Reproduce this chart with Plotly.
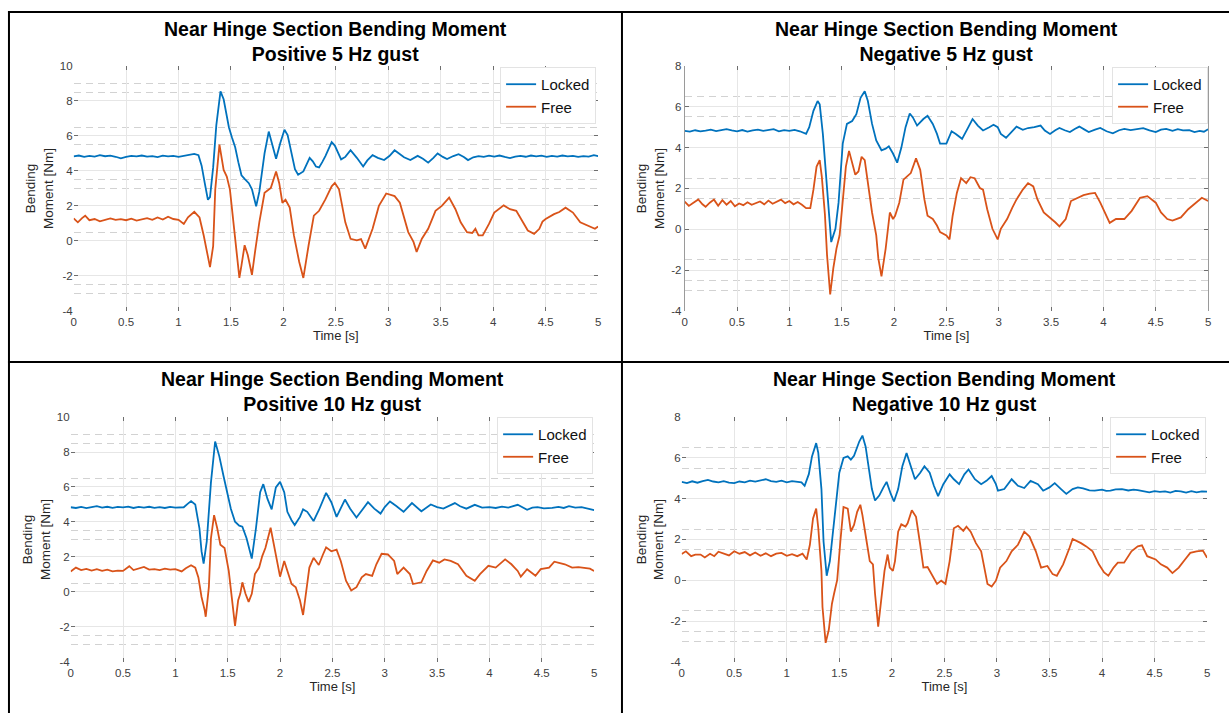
import plotly.graph_objects as go

W, H = 1232, 719

# ---------------- data: Positive 5 Hz gust ----------------
t_p5_locked = [0.00,0.05,0.10,0.15,0.20,0.25,0.30,0.35,0.40,0.45,0.50,0.55,0.60,0.65,0.70,0.75,0.80,0.85,0.90,0.95,
               1.00,1.05,1.10,1.15,1.19,1.22,1.25,1.28,1.30,1.33,1.36,1.40,1.43,1.46,1.48,1.51,1.54,1.57,1.60,1.63,
               1.67,1.70,1.74,1.77,1.80,1.82,1.86,1.89,1.93,1.97,2.01,2.04,2.08,2.11,2.14,2.19,2.25,2.28,2.31,2.34,
               2.37,2.40,2.46,2.49,2.55,2.59,2.64,2.70,2.76,2.80,2.85,2.90,2.96,3.01,3.06,3.10,3.15,3.21,3.28,3.33,
               3.38,3.43,3.47,3.52,3.56,3.62,3.67,3.72,3.76,3.81,3.86,3.91,3.96,4.01,4.06,4.11,4.16,4.21,4.26,4.31,
               4.36,4.41,4.46,4.51,4.56,4.61,4.66,4.71,4.76,4.81,4.86,4.91,4.96,5.00]
m_p5_locked = [4.83,4.88,4.80,4.86,4.82,4.90,4.84,4.87,4.81,4.72,4.80,4.86,4.83,4.88,4.82,4.85,4.79,4.87,4.83,4.86,
               4.80,4.85,4.90,4.97,4.90,4.30,3.30,2.35,2.50,4.20,6.60,8.55,8.10,7.00,6.50,5.90,5.35,4.50,3.75,3.55,
               3.30,2.95,1.98,2.80,4.30,5.00,6.25,5.60,4.70,5.60,6.35,6.05,4.90,4.10,3.78,3.97,4.75,4.55,4.25,4.20,
               4.50,4.85,5.65,5.45,4.66,4.80,5.18,4.75,4.25,4.60,4.90,4.75,4.62,4.85,5.18,5.00,4.78,4.62,4.86,4.70,
               4.47,4.75,5.00,4.80,4.68,4.85,4.96,4.80,4.62,4.78,4.85,4.80,4.87,4.82,4.88,4.80,4.73,4.82,4.86,4.81,
               4.88,4.83,4.87,4.80,4.86,4.82,4.88,4.83,4.86,4.80,4.85,4.82,4.90,4.85]
t_p5_free = [0.00,0.04,0.08,0.11,0.15,0.20,0.25,0.30,0.35,0.40,0.45,0.50,0.55,0.60,0.65,0.70,0.75,0.80,0.85,0.90,
             0.95,1.00,1.05,1.09,1.15,1.20,1.24,1.28,1.30,1.33,1.35,1.39,1.43,1.46,1.49,1.53,1.58,1.60,1.63,1.66,
             1.70,1.73,1.77,1.82,1.88,1.93,1.96,1.99,2.02,2.06,2.10,2.15,2.19,2.24,2.29,2.34,2.40,2.46,2.49,2.53,
             2.59,2.64,2.70,2.74,2.78,2.85,2.91,2.98,3.06,3.11,3.19,3.24,3.27,3.32,3.38,3.45,3.51,3.58,3.64,3.69,
             3.75,3.80,3.83,3.86,3.90,3.96,4.01,4.10,4.16,4.22,4.28,4.33,4.39,4.44,4.47,4.50,4.58,4.63,4.69,4.76,
             4.83,4.91,4.97,5.00]
m_p5_free = [1.29,1.06,1.30,1.44,1.18,1.25,1.12,1.22,1.28,1.20,1.24,1.18,1.27,1.16,1.24,1.30,1.20,1.34,1.22,1.38,
             1.25,1.20,0.97,1.35,1.66,1.34,0.31,-0.81,-1.50,-0.30,2.93,5.50,4.06,3.68,2.93,0.69,-2.12,-1.40,-0.25,-0.81,
             -1.94,-0.60,1.06,2.75,3.03,3.97,3.30,2.18,2.35,1.90,0.31,-1.19,-2.12,-0.25,1.44,1.72,2.37,3.12,3.31,2.95,
             1.06,0.12,0.03,0.10,-0.44,0.69,2.00,2.71,2.56,2.18,0.50,-0.06,-0.63,0.12,0.69,1.72,2.00,2.47,1.81,1.06,
             0.50,0.45,0.69,0.31,0.31,0.97,1.62,2.03,1.81,1.72,1.06,0.59,0.40,0.69,1.10,1.25,1.53,1.65,1.90,1.62,
             1.06,0.87,0.69,0.82]

# ---------------- data: Negative 5 Hz gust ----------------
t_n5_locked = [0.00,0.05,0.10,0.15,0.20,0.25,0.30,0.35,0.40,0.45,0.50,0.55,0.60,0.65,0.70,0.75,0.80,0.85,0.90,0.95,
               1.00,1.05,1.10,1.16,1.19,1.23,1.27,1.29,1.32,1.36,1.40,1.44,1.47,1.51,1.55,1.60,1.64,1.68,1.72,1.75,
               1.79,1.83,1.88,1.92,1.95,1.99,2.03,2.07,2.11,2.15,2.18,2.22,2.28,2.32,2.37,2.41,2.44,2.50,2.55,2.59,
               2.65,2.71,2.75,2.80,2.85,2.91,2.95,2.99,3.02,3.07,3.12,3.17,3.23,3.28,3.34,3.40,3.44,3.49,3.54,3.58,
               3.63,3.68,3.73,3.77,3.82,3.86,3.92,3.97,4.03,4.09,4.15,4.20,4.26,4.32,4.38,4.44,4.50,4.55,4.60,4.66,
               4.71,4.76,4.82,4.87,4.92,4.96,5.00]
m_n5_locked = [4.82,4.78,4.85,4.80,4.83,4.88,4.81,4.86,4.90,4.84,4.80,4.86,4.78,4.84,4.88,4.82,4.85,4.90,4.80,4.86,
               4.82,4.87,4.80,4.67,5.00,5.80,6.28,6.12,4.67,1.78,-0.63,0.02,1.30,4.20,5.16,5.30,5.64,6.44,6.76,6.28,
               5.16,4.35,3.87,3.95,4.06,3.71,3.26,4.00,5.00,5.67,5.48,5.08,5.40,5.56,5.16,4.67,4.19,4.19,4.80,4.67,
               4.43,5.00,5.40,5.08,4.84,5.00,5.12,5.00,4.67,4.48,4.75,5.03,4.87,4.96,5.00,5.08,4.84,4.67,4.85,4.96,
               4.85,4.76,4.92,5.03,4.88,4.76,4.88,4.96,4.80,4.70,4.85,4.92,4.86,4.90,4.95,4.84,4.76,4.88,4.92,4.82,
               4.90,4.84,4.86,4.76,4.82,4.78,4.90]
t_n5_free = [0.00,0.04,0.08,0.13,0.17,0.20,0.24,0.28,0.32,0.36,0.40,0.44,0.48,0.52,0.56,0.60,0.64,0.68,0.72,0.76,
             0.80,0.84,0.88,0.92,0.96,1.00,1.04,1.08,1.12,1.16,1.20,1.23,1.26,1.29,1.31,1.34,1.36,1.39,1.42,1.45,
             1.48,1.51,1.54,1.57,1.60,1.63,1.66,1.69,1.72,1.75,1.79,1.83,1.85,1.88,1.92,1.96,1.99,2.01,2.05,2.09,
             2.13,2.16,2.21,2.25,2.29,2.32,2.37,2.41,2.44,2.50,2.53,2.56,2.60,2.64,2.69,2.73,2.77,2.82,2.85,2.89,
             2.94,2.99,3.02,3.08,3.13,3.17,3.23,3.28,3.33,3.37,3.43,3.49,3.54,3.58,3.64,3.69,3.75,3.81,3.87,3.92,
             3.97,4.01,4.06,4.12,4.20,4.27,4.35,4.42,4.50,4.55,4.61,4.66,4.74,4.81,4.87,4.94,5.00]
m_n5_free = [1.35,1.14,1.28,1.46,1.22,1.10,1.30,1.45,1.15,1.42,1.20,1.38,1.12,1.26,1.18,1.32,1.20,1.28,1.36,1.22,
             1.40,1.25,1.35,1.45,1.28,1.38,1.22,1.33,1.20,1.03,1.03,1.94,3.07,3.39,2.58,0.70,-1.27,-3.20,-1.91,-0.95,
             -0.30,1.30,3.07,3.84,3.23,2.67,2.83,3.55,3.39,2.26,0.82,-0.30,-1.43,-2.31,-0.95,0.82,0.50,0.66,1.30,2.43,
             2.59,2.75,3.47,2.91,1.46,0.66,0.50,0.18,-0.14,-0.30,-0.50,0.66,1.78,2.50,2.26,2.55,2.50,2.02,1.94,0.98,
             0.02,-0.50,0.02,0.50,1.06,1.46,1.94,2.26,2.10,1.46,0.82,0.58,0.34,0.14,0.50,1.38,1.54,1.67,1.74,1.78,
             1.30,0.82,0.31,0.50,0.50,0.90,1.54,1.62,1.30,0.82,0.50,0.42,0.58,0.98,1.22,1.54,1.38]

# ---------------- data: Positive 10 Hz gust ----------------
t_p10_locked = [0.00,0.05,0.10,0.15,0.20,0.25,0.30,0.35,0.40,0.45,0.50,0.55,0.60,0.65,0.70,0.75,0.80,0.85,0.90,0.95,
                1.00,1.04,1.08,1.12,1.15,1.19,1.23,1.25,1.27,1.30,1.34,1.38,1.42,1.46,1.49,1.53,1.57,1.61,1.64,1.68,
                1.73,1.77,1.81,1.84,1.88,1.92,1.96,2.00,2.04,2.07,2.11,2.14,2.19,2.22,2.26,2.32,2.37,2.44,2.49,2.54,
                2.62,2.67,2.73,2.78,2.84,2.90,2.96,3.00,3.05,3.11,3.18,3.26,3.35,3.44,3.50,3.56,3.62,3.67,3.72,3.78,
                3.86,3.93,4.00,4.06,4.12,4.18,4.27,4.36,4.41,4.46,4.52,4.60,4.66,4.71,4.76,4.82,4.88,4.94,5.00]
m_p10_locked = [4.84,4.80,4.86,4.79,4.85,4.90,4.82,4.87,4.81,4.86,4.83,4.88,4.80,4.86,4.82,4.87,4.81,4.85,4.80,4.86,
                4.82,4.85,4.84,5.05,5.19,5.00,3.64,2.33,1.62,2.89,6.26,8.60,7.75,6.63,5.88,4.76,4.01,3.79,3.73,3.07,
                1.91,3.64,5.70,6.16,5.32,4.72,5.98,6.29,5.70,4.58,4.10,3.82,4.29,4.72,4.58,4.05,4.67,5.66,5.13,4.29,
                5.28,4.76,4.25,4.65,5.13,4.76,4.48,4.85,5.17,4.91,4.58,5.08,4.61,5.00,4.85,4.76,4.92,5.08,4.90,4.76,
                4.98,4.82,4.85,4.80,4.88,4.82,4.98,4.70,4.82,4.85,4.78,4.80,4.86,4.80,4.90,4.82,4.85,4.76,4.67]
t_p10_free = [0.00,0.05,0.10,0.15,0.20,0.25,0.30,0.35,0.40,0.45,0.50,0.56,0.60,0.65,0.70,0.75,0.80,0.85,0.90,0.95,
              1.00,1.06,1.10,1.15,1.19,1.22,1.25,1.28,1.29,1.32,1.34,1.37,1.40,1.43,1.47,1.51,1.54,1.57,1.60,1.62,
              1.64,1.67,1.70,1.73,1.76,1.80,1.83,1.86,1.91,1.95,1.98,2.00,2.04,2.07,2.11,2.15,2.19,2.22,2.25,2.28,
              2.32,2.37,2.41,2.44,2.49,2.54,2.58,2.63,2.68,2.73,2.78,2.82,2.88,2.92,2.97,3.03,3.09,3.12,3.18,3.24,
              3.27,3.35,3.40,3.46,3.52,3.57,3.63,3.70,3.78,3.86,3.91,3.99,4.06,4.15,4.21,4.27,4.30,4.36,4.44,4.49,
              4.57,4.62,4.72,4.79,4.85,4.91,4.96,5.00]
m_p10_free = [1.17,1.39,1.25,1.32,1.22,1.30,1.20,1.27,1.18,1.22,1.20,1.47,1.25,1.34,1.43,1.28,1.30,1.25,1.33,1.28,
              1.30,1.17,1.35,1.52,1.39,0.83,-0.29,-1.04,-1.42,0.27,3.07,4.39,3.64,2.70,2.51,1.20,-0.29,-1.94,-0.48,-0.11,
              0.55,-0.11,-0.57,-0.11,1.02,1.39,2.05,2.51,3.67,2.32,1.39,0.87,1.77,1.20,0.45,0.27,-0.48,-1.32,-0.11,1.39,
              1.95,1.54,2.14,2.55,2.32,2.42,1.77,0.64,0.08,0.27,0.83,1.02,0.92,1.58,2.18,2.14,1.77,1.02,1.39,1.02,
              0.45,0.55,1.20,1.80,1.67,1.86,1.77,1.58,0.92,0.64,1.02,1.49,1.39,1.86,1.58,1.20,0.87,1.30,0.92,1.30,
              1.39,1.73,1.58,1.39,1.42,1.39,1.33,1.20]

# ---------------- data: Negative 10 Hz gust ----------------
t_n10_locked = [0.00,0.05,0.10,0.15,0.20,0.25,0.30,0.35,0.40,0.45,0.50,0.55,0.60,0.65,0.70,0.75,0.80,0.85,0.90,0.95,
                1.00,1.05,1.10,1.14,1.17,1.21,1.24,1.28,1.30,1.33,1.35,1.38,1.41,1.45,1.47,1.50,1.54,1.58,1.61,1.64,
                1.69,1.72,1.75,1.78,1.81,1.84,1.88,1.92,1.95,1.99,2.02,2.06,2.10,2.14,2.17,2.22,2.27,2.31,2.36,2.40,
                2.44,2.49,2.55,2.59,2.64,2.69,2.73,2.79,2.85,2.90,2.95,2.99,3.01,3.07,3.14,3.20,3.26,3.32,3.39,3.44,
                3.50,3.55,3.61,3.66,3.72,3.77,3.82,3.88,3.93,4.00,4.04,4.08,4.13,4.19,4.25,4.30,4.34,4.40,4.45,4.50,
                4.55,4.60,4.65,4.70,4.75,4.80,4.85,4.90,4.95,5.00]
m_n10_locked = [4.82,4.76,4.85,4.78,4.86,4.92,4.84,4.80,4.86,4.78,4.76,4.84,4.80,4.88,4.83,4.90,4.95,4.86,4.82,4.88,
                4.80,4.86,4.82,4.80,4.63,5.20,6.07,6.72,6.24,4.47,1.90,0.22,0.94,2.87,4.15,5.27,5.99,6.07,5.91,6.10,
                6.80,7.09,6.56,5.43,4.47,3.91,4.15,4.55,4.82,4.23,3.86,4.47,5.59,6.24,5.75,4.95,5.27,5.59,5.27,4.63,
                4.12,4.71,5.19,4.95,4.71,5.19,5.43,4.95,4.71,4.87,5.11,4.71,4.39,4.47,4.95,4.63,4.52,4.87,4.71,4.39,
                4.55,4.76,4.47,4.23,4.47,4.55,4.50,4.40,4.39,4.44,4.38,4.39,4.45,4.47,4.40,4.44,4.42,4.36,4.31,4.37,
                4.33,4.36,4.30,4.38,4.36,4.30,4.37,4.31,4.36,4.34]
t_n10_free = [0.00,0.04,0.09,0.13,0.18,0.22,0.27,0.31,0.35,0.40,0.45,0.50,0.55,0.60,0.65,0.70,0.75,0.80,0.85,0.90,
              0.95,1.00,1.05,1.10,1.15,1.19,1.22,1.25,1.28,1.30,1.33,1.34,1.37,1.40,1.43,1.45,1.48,1.51,1.54,1.58,
              1.61,1.64,1.67,1.70,1.72,1.76,1.79,1.82,1.84,1.87,1.90,1.93,1.96,1.98,2.01,2.03,2.06,2.09,2.13,2.15,
              2.19,2.23,2.27,2.30,2.34,2.38,2.43,2.47,2.51,2.55,2.59,2.63,2.68,2.71,2.75,2.80,2.85,2.88,2.91,2.95,
              2.99,3.03,3.09,3.14,3.20,3.26,3.31,3.37,3.42,3.48,3.53,3.57,3.63,3.69,3.72,3.80,3.85,3.91,3.97,4.02,
              4.06,4.11,4.15,4.21,4.28,4.34,4.38,4.43,4.51,4.56,4.62,4.67,4.73,4.79,4.84,4.90,4.96,5.00]
m_n10_free = [1.29,1.42,1.18,1.26,1.26,1.12,1.30,1.18,1.40,1.30,1.22,1.42,1.30,1.38,1.22,1.36,1.20,1.32,1.18,1.30,
              1.34,1.20,1.28,1.18,1.30,1.02,1.74,3.03,3.51,2.55,0.46,-1.31,-3.07,-2.43,-1.15,-0.66,0.02,1.90,3.59,3.51,
              2.39,2.71,3.35,3.70,3.19,1.90,0.94,0.78,-0.66,-2.27,-0.98,0.46,1.26,0.62,0.46,0.94,2.38,2.74,2.63,2.79,
              3.43,3.11,1.74,0.62,0.65,0.30,-0.18,-0.02,-0.18,0.94,2.55,2.67,2.42,2.63,2.38,1.82,1.42,0.62,-0.18,-0.31,
              -0.02,0.62,0.94,1.42,1.74,2.38,2.14,1.42,0.62,0.70,0.30,0.22,0.78,1.58,2.02,1.82,1.66,1.42,0.78,0.38,
              0.22,0.62,0.86,0.86,1.42,1.66,1.71,1.18,1.02,0.78,0.62,0.35,0.62,1.02,1.34,1.42,1.45,1.10]

# ---------------- tick labels / titles ----------------
x_ticks = [0, 0.5, 1, 1.5, 2, 2.5, 3, 3.5, 4, 4.5, 5]
y_ticks_pos = [-4, -2, 0, 2, 4, 6, 8, 10]
y_ticks_neg = [-4, -2, 0, 2, 4, 6, 8]
dash_lines_pos = [9.0, 8.5, 6.5, 5.5, 3.5, 3.0, 0.5, -2.5, -3.0]
dash_lines_neg = [6.5, 5.5, 2.5, 1.5, -1.5, -2.5, -3.0]
main_title = "Near Hinge Section Bending Moment"
sub_titles = ["Positive 5 Hz gust", "Negative 5 Hz gust", "Positive 10 Hz gust", "Negative 10 Hz gust"]
series_names = ["Locked", "Free"]

for a, b in [(t_p5_locked, m_p5_locked), (t_p5_free, m_p5_free), (t_n5_locked, m_n5_locked), (t_n5_free, m_n5_free),
             (t_p10_locked, m_p10_locked), (t_p10_free, m_p10_free), (t_n10_locked, m_n10_locked), (t_n10_free, m_n10_free)]:
    assert len(a) == len(b), (len(a), len(b), a[-1])

# ---------------- layout geometry (pixels) ----------------
panels = [
    dict(sub=sub_titles[0], tl=t_p5_locked, ml=m_p5_locked, tf=t_p5_free, mf=m_p5_free,
         yr=[-4, 10], yt=y_ticks_pos, dash=dash_lines_pos, xpx=(71, 598), ypx=(61, 310), leg=(596, 62), ttl=(334.5, 35.8)),
    dict(sub=sub_titles[1], tl=t_n5_locked, ml=m_n5_locked, tf=t_n5_free, mf=m_n5_free,
         yr=[-4, 8], yt=y_ticks_neg, dash=dash_lines_neg, xpx=(685, 1211), ypx=(61, 310), leg=(1211, 62), ttl=(948, 35.8)),
    dict(sub=sub_titles[2], tl=t_p10_locked, ml=m_p10_locked, tf=t_p10_free, mf=m_p10_free,
         yr=[-4, 10], yt=y_ticks_pos, dash=dash_lines_pos, xpx=(68, 594), ypx=(418, 667), leg=(593, 418), ttl=(331, 392.2)),
    dict(sub=sub_titles[3], tl=t_n10_locked, ml=m_n10_locked, tf=t_n10_free, mf=m_n10_free,
         yr=[-4, 8], yt=y_ticks_neg, dash=dash_lines_neg, xpx=(682, 1210), ypx=(418, 667), leg=(1209, 418), ttl=(946, 392.2)),
]

FONT = "Liberation Sans, Arial, Helvetica, sans-serif"
C_LOCKED = "#0072BD"
C_FREE = "#D95319"

fig = go.Figure()
layout = dict(width=W, height=H, margin=dict(l=0, r=0, t=0, b=0, pad=0),
              paper_bgcolor="white", plot_bgcolor="white",
              font=dict(family=FONT, color="#262626"), annotations=[], shapes=[])

for i, p in enumerate(panels, start=1):
    sfx = "" if i == 1 else str(i)
    legname = "legend" + sfx
    fig.add_trace(go.Scatter(x=p["tl"], y=p["ml"], mode="lines", name=series_names[0],
                             line=dict(color=C_LOCKED, width=1.8), xaxis="x" + sfx, yaxis="y" + sfx,
                             legend=legname))
    fig.add_trace(go.Scatter(x=p["tf"], y=p["mf"], mode="lines", name=series_names[1],
                             line=dict(color=C_FREE, width=1.8), xaxis="x" + sfx, yaxis="y" + sfx,
                             legend=legname))
    x0, x1 = p["xpx"]
    y0, y1 = p["ypx"]
    layout["xaxis" + sfx] = dict(
        domain=[x0 / W, x1 / W], anchor="y" + sfx, range=[0, 5], tickvals=x_ticks,
        ticktext=[f"{v:g}" for v in x_ticks], showgrid=True, gridcolor="#e6e6e6", gridwidth=1,
        zeroline=False, showline=False, ticks="inside", ticklen=4, tickcolor="#6e6e6e", mirror="ticks",
        tickfont=dict(size=11.5, color="#404040"), ticklabelstandoff=3,
        title=dict(text="Time [s]", font=dict(size=13, color="#262626"), standoff=1))
    layout["yaxis" + sfx] = dict(
        domain=[1 - y1 / H, 1 - y0 / H], anchor="x" + sfx, range=p["yr"], tickvals=p["yt"],
        ticktext=[f"{v:g}" for v in p["yt"]], showgrid=True, gridcolor="#e6e6e6", gridwidth=1,
        zeroline=False, showline=(i == 2), linecolor="#9a9a9a", linewidth=1,
        ticks="inside", ticklen=4, tickcolor="#6e6e6e", mirror="ticks",
        tickfont=dict(size=11.5, color="#404040"),
        minor=dict(tickmode="array", tickvals=p["dash"], showgrid=True, gridcolor="#d2d2d2",
                   griddash="7px,5px", gridwidth=1, ticks=""),
        title=dict(text="Bending<br>Moment [Nm]", font=dict(size=13.5, color="#262626"), standoff=3))
    lx, ly = p["leg"]
    layout[legname] = dict(x=lx / W, y=1 - ly / H, xanchor="right", yanchor="top",
                           bgcolor="white", bordercolor="#e3e3e3", borderwidth=1,
                           font=dict(size=15, color="#111111", family=FONT), itemwidth=30,
                           tracegroupgap=0)
    tx, ty = p["ttl"]
    layout["annotations"].append(dict(
        text=f"<b>{main_title}</b><br><b>{p['sub']}</b>", x=tx / W, y=1 - ty / H,
        xref="paper", yref="paper", xanchor="center", yanchor="middle", showarrow=False,
        font=dict(size=19.5, color="black", family=FONT)))

# table borders
def hline(ypx, x0px, x1px):
    return dict(type="line", xref="paper", yref="paper", x0=x0px / W, x1=x1px / W,
                y0=1 - ypx / H, y1=1 - ypx / H, line=dict(color="black", width=2))

def vline(xpx, y0px, y1px):
    return dict(type="line", xref="paper", yref="paper", x0=xpx / W, x1=xpx / W,
                y0=1 - y0px / H, y1=1 - y1px / H, line=dict(color="black", width=2))

layout["shapes"] = [hline(6, 5, W), hline(362, 5, W), vline(6, 5, H), vline(622, 5, H)]

fig.update_layout(**layout)
fig.write_html("out.html")
